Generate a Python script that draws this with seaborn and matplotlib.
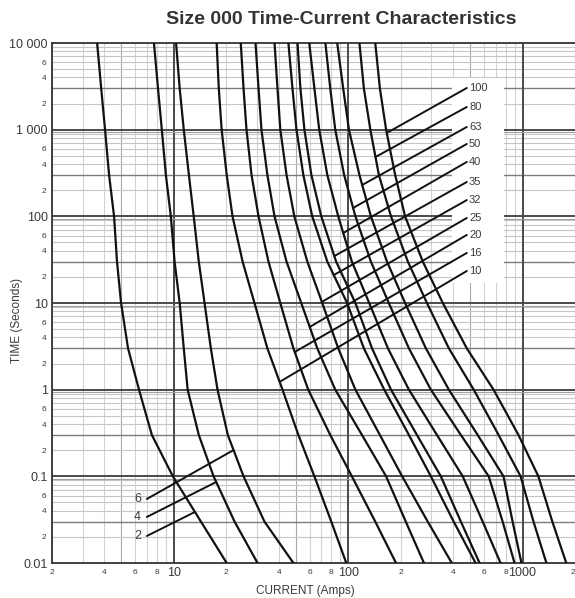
"""
plot.py - fuse time-current characteristics (size 000), log-log
"""

import numpy as np
import pandas as pd
import matplotlib
matplotlib.use("Agg")
import matplotlib.pyplot as plt
from matplotlib.patches import Rectangle
import seaborn as sns

# ---- data -------------------------------------------------------------------
# time (s) at which each curve's current was read
TIMES = [10000, 3000, 1000, 300, 100, 30, 10, 3, 1, 0.3, 0.1, 0.03, 0.01]

# pre-arcing current (A) per fuse rating, one value per entry of TIMES
AMPS_2 = [3.63, 3.83, 4.03, 4.25, 4.54, 4.72, 4.98, 5.46, 6.31, 7.48, 9.87, 14.3, 20.1]
AMPS_4 = [7.69, 8.11, 8.53, 9.0, 9.61, 10.1, 10.8, 11.4, 12.0, 13.9, 16.9, 22.3, 30.2]
AMPS_6 = [10.3, 10.8, 11.4, 12.2, 13.0, 13.9, 15.0, 16.3, 17.8, 20.4, 25.1, 33.1, 48.5]
AMPS_10 = [17.6, 18.1, 18.8, 20.1, 21.7, 24.8, 29.0, 34.4, 42.0, 51.8, 64.0, 80.0, 97.5]
AMPS_16 = [24.2, 25.1, 26.1, 27.9, 30.6, 34.9, 40.8, 48.5, 59.0, 78.9, 105, 143, 188]
AMPS_20 = [29.4, 30.6, 31.8, 34.4, 37.8, 44.3, 53.8, 66.5, 84.3, 120, 165, 214, 272]
AMPS_25 = [37.8, 39.3, 40.8, 44.3, 49.1, 58.3, 71.0, 87.7, 110, 152, 204, 286, 393]
AMPS_32 = [45.4, 47.9, 50.5, 55.3, 62.2, 75.9, 98.6, 123, 161, 223, 298, 403, 538]
AMPS_35 = [51.2, 53.2, 56.1, 61.5, 70.1, 85.3, 110, 137, 176, 248, 340, 443, 567]
AMPS_40 = [59.8, 64.0, 68.2, 75.9, 87.7, 105, 132, 169, 223, 323, 454, 591, 748]
AMPS_50 = [74.0, 78.9, 84.3, 94.8, 110, 135, 171, 223, 298, 443, 640, 769, 900]
AMPS_63 = [86.5, 93.6, 101, 116, 135, 167, 212, 279, 378, 553, 778, 877, 986]
AMPS_80 = [116, 123, 134, 150, 176, 220, 283, 378, 525, 729, 975, 1156, 1371]
AMPS_100 = [143, 152, 165, 186, 212, 268, 349, 479, 682, 948, 1233, 1483, 1782]

RATINGS = [2, 4, 6, 10, 16, 20, 25, 32, 35, 40, 50, 63, 80, 100]
ALL_AMPS = [AMPS_2, AMPS_4, AMPS_6, AMPS_10, AMPS_16, AMPS_20, AMPS_25,
            AMPS_32, AMPS_35, AMPS_40, AMPS_50, AMPS_63, AMPS_80, AMPS_100]

# rating labels on the right: time where the leader meets the curve,
# time at the label end of the leader
RIGHT_LABELS = [100, 80, 63, 50, 40, 35, 32, 25, 20, 16, 10]
RIGHT_CURVE_T = [916, 484, 230, 125, 64.2, 34.8, 21, 10.3, 5.29, 2.72, 1.23]
RIGHT_LABEL_T = [3027, 1827, 1074, 684, 424, 249, 154, 95.7, 61, 37.8, 23.4]
RIGHT_LABEL_A = 479

# rating labels bottom left
LEFT_LABELS = [6, 4, 2]
LEFT_CURVE_T = [0.201, 0.086, 0.0388]
LEFT_LABEL_T = [0.0548, 0.034, 0.0205]
LEFT_LABEL_A = 7.0

# white box behind the right labels (A, s)
BOX_A = (393, 778)
BOX_T = (17.0, 3946)

X_MAJOR = [10, 100, 1000]
Y_MAJOR = [0.01, 0.1, 1, 10, 100, 1000, 10000]
Y_MAJOR_LABELS = ["0.01", "0.1", "1", "10", "100", "1 000", "10 000"]

INK = "#111111"
TXT = "#3a3a3a"

# ---- build long table --------------------------------------------------------
rows = []
for r, amps in zip(RATINGS, ALL_AMPS):
    for t, a in zip(TIMES, amps):
        rows.append({"rating": r, "current": a, "time": t})
df = pd.DataFrame(rows)


def current_at(rating, t):
    amps = ALL_AMPS[RATINGS.index(rating)]
    lt = np.log10(TIMES)[::-1]
    la = np.log10(amps)[::-1]
    return 10 ** np.interp(np.log10(t), lt, la)


# ---- figure -----------------------------------------------------------------
sns.set_style("white")
plt.rcParams["font.family"] = ["Liberation Sans", "DejaVu Sans"]

fig = plt.figure(figsize=(5.75, 5.98), dpi=100)
ax = fig.add_axes([52 / 575, 35 / 598, 523 / 575, 520 / 598])
ax.set_xscale("log")
ax.set_yscale("log")
ax.set_xlim(2, 2000)
ax.set_ylim(0.01, 10000)

# grid: every 1..9 step, decades dark
decs_x = [1, 10, 100, 1000]
decs_y = [0.01, 0.1, 1, 10, 100, 1000]
for d in decs_x:
    for k in range(2, 10):
        v = d * k
        if 2 <= v <= 2000:
            c = "#a8a8a8" if k == 5 else "#d2d2d2"
            ax.axvline(v, color=c, lw=0.8, zorder=1)
for d in decs_y:
    for k in range(2, 10):
        v = d * k
        c, lw = ("#7c7c7c", 1.0) if k == 3 else ("#c6c6c6", 0.8)
        ax.axhline(v, color=c, lw=lw, zorder=1)
for v in X_MAJOR:
    ax.axvline(v, color="#4a4a4a", lw=1.4, zorder=1)
for v in Y_MAJOR[1:-1]:
    ax.axhline(v, color="#4a4a4a", lw=1.4, zorder=1)
    ax.axhline(v * 0.93, color="#a0a0a0", lw=0.8, zorder=1)

ax.add_patch(Rectangle((BOX_A[0], BOX_T[0]), BOX_A[1] - BOX_A[0],
                       BOX_T[1] - BOX_T[0], facecolor="white",
                       edgecolor="none", zorder=2))

sns.lineplot(data=df, x="current", y="time", units="rating", estimator=None,
             sort=False, color=INK, linewidth=1.6, legend=False, ax=ax,
             zorder=3)

# leaders + labels
for lab, tc, tl in zip(RIGHT_LABELS, RIGHT_CURVE_T, RIGHT_LABEL_T):
    ac = current_at(lab, tc)
    ax.plot([ac, RIGHT_LABEL_A], [tc, tl], color=INK, lw=1.4, zorder=4)
    ax.text(RIGHT_LABEL_A * 1.03, tl, str(lab), fontsize=8, color=TXT,
            ha="left", va="center", zorder=5)
for lab, tc, tl in zip(LEFT_LABELS, LEFT_CURVE_T, LEFT_LABEL_T):
    ac = current_at(lab, tc)
    ax.plot([LEFT_LABEL_A, ac], [tl, tc], color=INK, lw=1.4, zorder=4)
    ax.text(LEFT_LABEL_A / 1.08, tl, str(lab), fontsize=9, color=TXT,
            ha="right", va="center", zorder=5)

# ticks
x_minor, x_minor_lab = [], []
for d in decs_x:
    for k in range(2, 10):
        v = d * k
        if 2 <= v <= 2000:
            x_minor.append(v)
            x_minor_lab.append(str(k) if k in (2, 4, 6, 8) else "")
y_minor, y_minor_lab = [], []
for d in decs_y:
    for k in range(2, 10):
        y_minor.append(d * k)
        y_minor_lab.append(str(k) if k in (2, 4, 6) else "")

ax.set_xticks(X_MAJOR, labels=["10", "100", "1000"])
ax.set_xticks(x_minor, labels=x_minor_lab, minor=True)
ax.set_yticks(Y_MAJOR, labels=Y_MAJOR_LABELS)
ax.set_yticks(y_minor, labels=y_minor_lab, minor=True)
ax.tick_params(which="major", length=0, labelsize=9, labelcolor=TXT, pad=3)
ax.tick_params(which="minor", length=0, labelsize=6, labelcolor=TXT, pad=4)
ax.get_xticklabels(minor=True)[-1].set_horizontalalignment("right")
ax.set_xlabel("")
ax.set_ylabel("")

for s in ax.spines.values():
    s.set_color("#333333")
    s.set_linewidth(1.3)
ax.spines["right"].set_visible(False)

fig.text(341 / 575, 1 - 20 / 598, "Size 000 Time-Current Characteristics",
         fontsize=14, fontweight="bold", color="#333333",
         ha="center", va="center")
fig.text(305 / 575, 1 - 591 / 598, "CURRENT (Amps)", fontsize=8.5,
         color=TXT, ha="center", va="center")
fig.text(17 / 575, 1 - 320 / 598, "TIME (Seconds)", fontsize=8.5,
         color=TXT, ha="center", va="center", rotation=90)

fig.savefig("out.png", dpi=100)
plt.close(fig)
